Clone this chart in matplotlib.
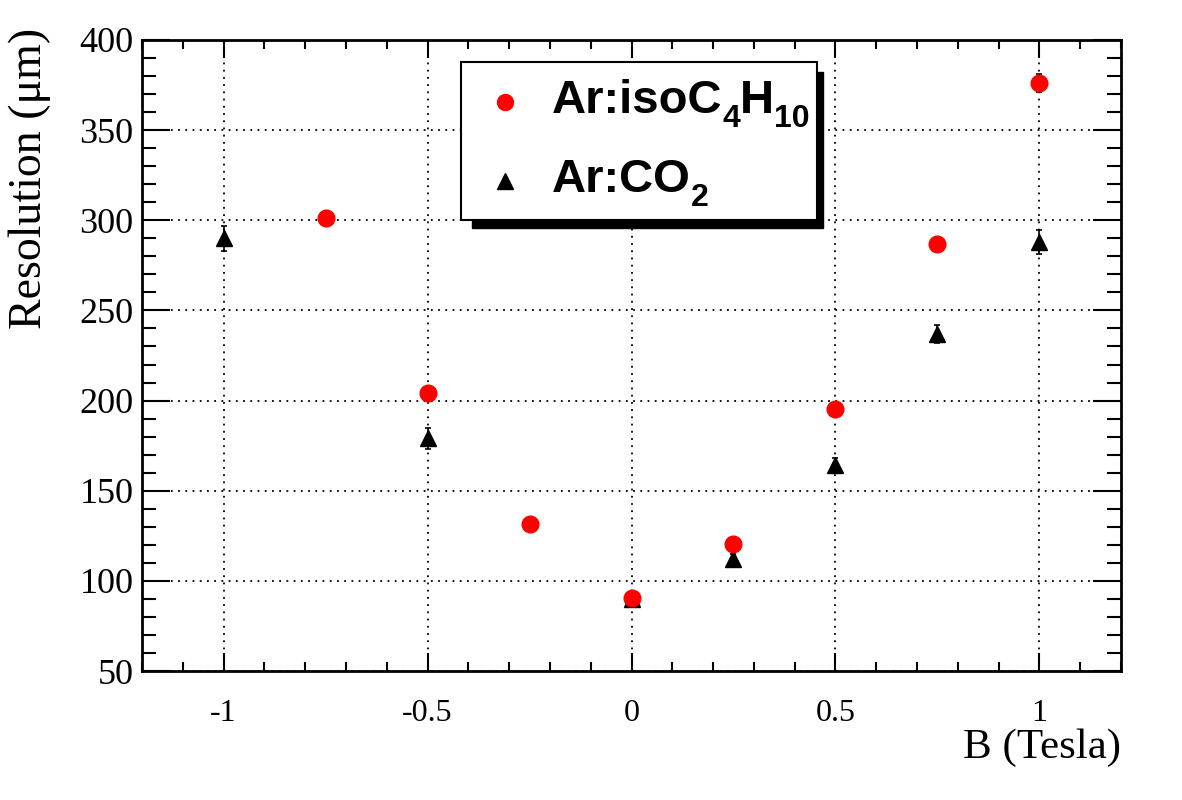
import matplotlib
matplotlib.use("Agg")
import matplotlib.pyplot as plt
from matplotlib.patches import Rectangle
from matplotlib.ticker import MultipleLocator

# ---- data ----
b_iso = [-0.75, -0.5, -0.25, 0.0, 0.25, 0.5, 0.75, 1.0]
res_iso = [301, 204, 131.5, 90.5, 120.5, 195.5, 287, 376]
err_iso = [4, 3, 2.5, 2.5, 2.5, 3, 4, 5]

b_co2 = [-1.0, -0.5, 0.0, 0.25, 0.5, 0.75, 1.0]
res_co2 = [290, 179, 90, 112, 164, 237, 288]
err_co2 = [7, 6, 3, 3, 4, 5, 6.5]

# legend labels as (text, is_subscript) pieces: Ar:isoC4H10 and Ar:CO2
label_iso = [("Ar:isoC", False), ("4", True), ("H", False), ("10", True)]
label_co2 = [("Ar:CO", False), ("2", True)]
xlabel = "B (Tesla)"
ylabel = "Resolution (\u03bcm)"
xticks = [-1, -0.5, 0, 0.5, 1]

fig = plt.figure(figsize=(11.82, 8.0), dpi=100)
ax = fig.add_axes([142/1182, 1-671/800, 979/1182, 631/800])

ax.set_xlim(-1.2, 1.2)
ax.set_ylim(50, 400)

ax.errorbar(b_iso, res_iso, yerr=err_iso, fmt='o', color='red', ms=12,
            mec='red', ecolor='black', elinewidth=1.2, capsize=2.5, capthick=1.2, zorder=4)
ax.errorbar(b_co2, res_co2, yerr=err_co2, fmt='^', color='black', ms=11.5,
            ecolor='black', elinewidth=1.2, capsize=2.5, capthick=1.2, zorder=3)

ax.xaxis.set_major_locator(MultipleLocator(0.5))
ax.xaxis.set_minor_locator(MultipleLocator(0.1))
ax.yaxis.set_major_locator(MultipleLocator(50))
ax.yaxis.set_minor_locator(MultipleLocator(10))

ax.grid(True, which='major', color='black', linestyle=(0, (1, 3)), linewidth=1.3)
ax.set_axisbelow(True)

for s in ax.spines.values():
    s.set_linewidth(2)

ax.tick_params(axis='both', which='both', direction='in', top=True, right=True, width=1.5)
ax.tick_params(axis='x', which='major', length=13, pad=20)
ax.tick_params(axis='x', which='minor', length=6.5)
ax.tick_params(axis='y', which='major', length=20, pad=6)
ax.tick_params(axis='y', which='minor', length=10)

ax.set_xticks(xticks)
ax.set_xticklabels([f"{v:g}" for v in xticks])
for lab in ax.get_yticklabels():
    lab.set_fontfamily('Liberation Serif')
    lab.set_fontsize(26)
for lab in ax.get_xticklabels():
    lab.set_fontfamily('Liberation Serif')
    lab.set_fontsize(23)

fig.text(1121/1182, 1-748/800, xlabel, ha='right', va='center',
         fontfamily='Liberation Serif', fontsize=31)
fig.text(30/1182, 1-28/800, ylabel, ha='center', va='top', rotation=90,
         fontfamily='Liberation Serif', fontsize=33)

# ---- legend box with shadow ----
ax.add_patch(Rectangle((0.337, 0.702), 0.6956-0.337, 0.949-0.702,
                       transform=ax.transAxes, facecolor='black', edgecolor='black',
                       zorder=10, clip_on=False))
ax.add_patch(Rectangle((0.3258, 0.7147), 0.6895-0.3258, 0.9651-0.7147,
                       transform=ax.transAxes, facecolor='white', edgecolor='black',
                       linewidth=1.5, zorder=11, clip_on=False))
ax.plot([0.3708], [0.9017], 'o', color='red', ms=11.5, transform=ax.transAxes,
        zorder=12, clip_on=False)
ax.plot([0.3708], [0.7765], '^', color='black', ms=11, transform=ax.transAxes,
        zorder=12, clip_on=False)

fig.canvas.draw()
renderer = fig.canvas.get_renderer()


def rich_text(x_ax, y_ax, pieces, size=34, sub_size=23, sub_drop=14):
    """Place bold sans text with subscripts, starting at axes coords (baseline)."""
    x0, y0 = ax.transAxes.transform((x_ax, y_ax))
    xp = x0
    for txt, sub in pieces:
        fs = sub_size if sub else size
        yp = y0 - (sub_drop if sub else 0)
        fx, fy = fig.transFigure.inverted().transform((xp, yp))
        t = fig.text(fx, fy, txt, ha='left', va='baseline',
                     fontfamily='Liberation Sans', fontweight='bold',
                     fontsize=fs, zorder=13)
        bb = t.get_window_extent(renderer)
        xp = bb.x1


rich_text(0.4188, 0.8843, label_iso)
rich_text(0.4188, 0.759, label_co2)

fig.savefig("out.png", dpi=100)
